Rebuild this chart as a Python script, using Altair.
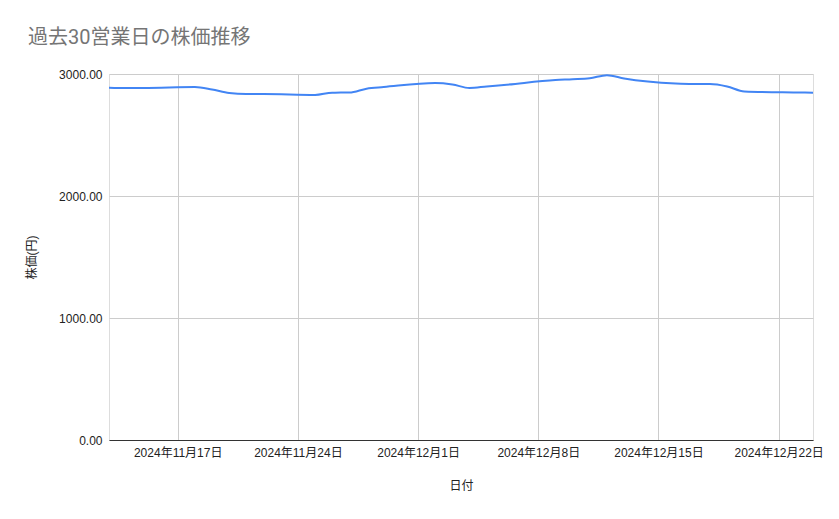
import altair as alt
import pandas as pd

dates = [
    "2024-11-13", "2024-11-14", "2024-11-15",
    "2024-11-18", "2024-11-19", "2024-11-20", "2024-11-21", "2024-11-22",
    "2024-11-25", "2024-11-26", "2024-11-27", "2024-11-28", "2024-11-29",
    "2024-12-02", "2024-12-03", "2024-12-04", "2024-12-05", "2024-12-06",
    "2024-12-09", "2024-12-10", "2024-12-11", "2024-12-12", "2024-12-13",
    "2024-12-16", "2024-12-17", "2024-12-18", "2024-12-19", "2024-12-20",
    "2024-12-23", "2024-12-24",
]
prices = [
    2888, 2885, 2885,
    2893, 2873, 2844, 2836, 2836,
    2828, 2847, 2848, 2880, 2893,
    2926, 2914, 2885, 2898, 2910,
    2951, 2957, 2965, 2990, 2963,
    2922, 2918, 2918, 2898, 2857,
    2849, 2847,
]
tick_dates = ["2024-11-17", "2024-11-24", "2024-12-01", "2024-12-08", "2024-12-15", "2024-12-22"]
domain_dates = ["2024-11-13", "2024-12-24"]
y_ticks = [0, 1000, 2000, 3000]

def ms(d):
    return int(pd.Timestamp(d, tz="UTC").value // 10**6)

df = pd.DataFrame({"date": [ms(d) for d in dates], "price": prices})

FONT = "Liberation Sans, Noto Sans CJK JP, sans-serif"

chart = alt.Chart(df).mark_line(
    color="#4285F4", strokeWidth=2, interpolate="monotone"
).encode(
    x=alt.X(
        "date:T",
        scale=alt.Scale(type="utc", domain=[ms(d) for d in domain_dates], nice=False),
        axis=alt.Axis(
            title="日付",
            values=[ms(d) for d in tick_dates],
            labelExpr="utcFormat(datum.value, '%Y年%-m月%-d日')",
            grid=True,
            gridColor="#cccccc",
            domainColor="#333333",
            ticks=False,
            labelPadding=7,
            labelFontSize=12,
            labelColor="#222222",
            titleFontSize=12,
            titleFontWeight="normal",
            titleColor="#222222",
            titlePadding=22,
            labelFont=FONT,
            titleFont=FONT,
        ),
    ),
    y=alt.Y(
        "price:Q",
        scale=alt.Scale(domain=[0, 3000], nice=False),
        axis=alt.Axis(
            title="株価(円)",
            values=y_ticks,
            format=".2f",
            grid=True,
            gridColor="#cccccc",
            domain=False,
            ticks=False,
            labelPadding=7,
            labelFontSize=12,
            labelColor="#222222",
            titleFontSize=12,
            titleFontWeight="normal",
            titleColor="#222222",
            titlePadding=20,
            labelFont=FONT,
            titleFont=FONT,
        ),
    ),
).properties(
    width=704,
    height=366,
    autosize=alt.AutoSizeParams(type="none"),
    padding={"left": 101, "top": 66, "right": 18, "bottom": 60},
    title=alt.TitleParams(
        "過去30営業日の株価推移",
        anchor="start",
        frame="group",
        dx=-81,
        fontSize=20,
        fontWeight="normal",
        color="#757575",
        font="Roboto, Noto Sans CJK JP, sans-serif",
        offset=20,
    ),
).configure_view(stroke=None).configure(background="white")

chart.save("out.html", embed_options={"renderer": "svg", "actions": False})
